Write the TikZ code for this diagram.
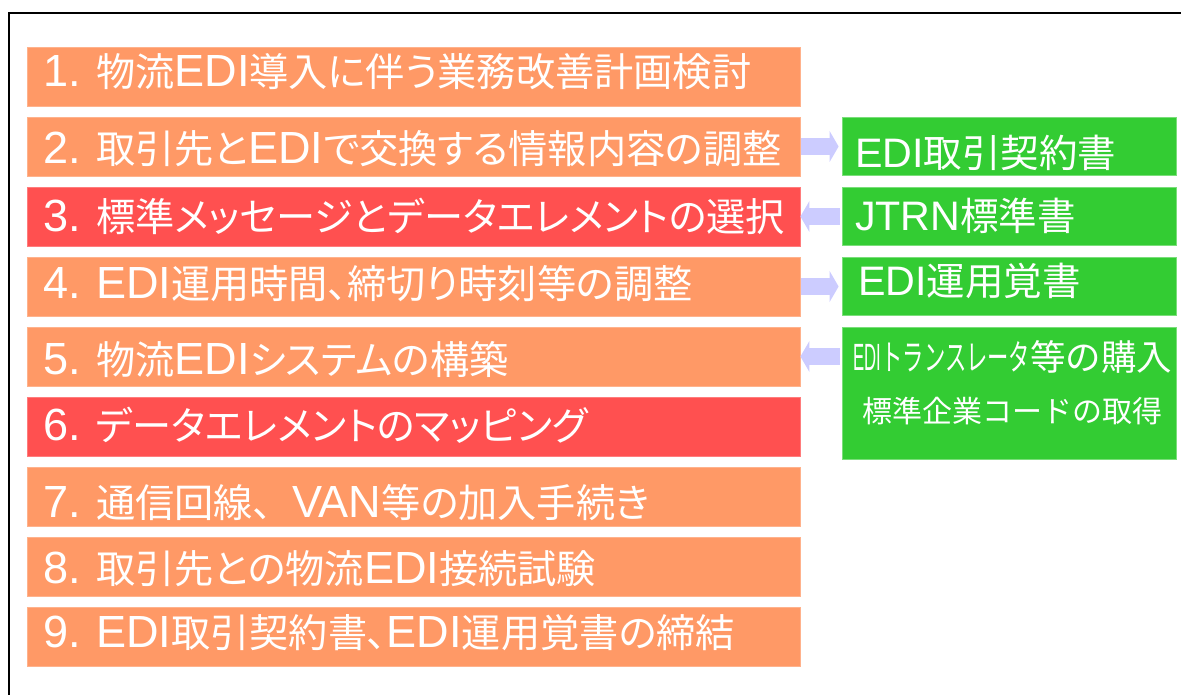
\documentclass[tikz,border=0pt]{standalone}
\usepackage{fontspec}
\usepackage{graphicx}
\setmainfont{Noto Sans CJK JP}
\newfontfamily\pf[RawFeature=+palt]{Noto Sans CJK JP}
\newfontfamily\latinf[Scale=1.15]{Liberation Sans}
\newfontfamily\latinG[Scale=1.07]{Liberation Sans}
\newcommand\latn[1]{{\latinf #1}}
\newcommand\latg[1]{{\latinG #1}}
\newcommand\tou{{\normalfont 、}}
\usetikzlibrary{arrows.meta,calc}
\definecolor{orangec}{HTML}{FF9966}
\definecolor{redc}{HTML}{FF5050}
\definecolor{greenc}{HTML}{33CC33}
\definecolor{arrowc}{HTML}{CCCCFF}
\begin{document}
\begin{tikzpicture}[x=1pt,y=-1pt,
  lbox/.style={minimum height=59pt, text width=741pt, inner xsep=16pt, inner ysep=0pt,
    align=left, text=white, font=\pf\fontsize{39.2}{46}\selectfont, line width=0.8pt},
  obox/.style={lbox, fill=orangec, draw=orangec!75!white},
  rbox/.style={lbox, fill=redc, draw=redc!75!white},
  gbox/.style={minimum height=58pt, text width=308pt, inner xsep=13pt, inner ysep=0pt,
    align=left, text=white, font=\fontsize{38.5}{44}\selectfont,
    fill=greenc, draw=greenc!65!white, line width=0.8pt},
  gtext/.style={text=white, inner sep=0pt, anchor=base},
  blockarrow/.style={draw=arrowc, line width=17pt,
    -{Triangle[length=9pt,width=31pt,line width=0pt]}}
]
\useasboundingbox (0,0) rectangle (1181,695);
\clip (0,0) rectangle (1181,695);
\draw[line width=2pt] (9,13) rectangle (1200,720);

\node[obox, text height=32.9pt, text depth=12.1pt] (b1) at (413.5,76.5) {\latn{1.}\kern15.5pt 物流\latn{EDI}導入に伴う業務改善計画検討};
\node[obox, text height=39.9pt, text depth=5.1pt] (b2) at (413.5,146.5) {\latn{2.}\kern15.5pt 取引先と\latn{EDI}で交換する情報内容の調整};
\node[rbox, text height=37.4pt, text depth=7.6pt] (b3) at (413.5,216.5) {\latn{3.}\kern15.5pt 標準メッセージとデータエレメントの選択};
\node[obox, text height=34.4pt, text depth=10.6pt] (b4) at (413.5,286.5) {\latn{4.}\kern15.5pt \latn{EDI}運用時間、締切り時刻等の調整};
\node[obox, text height=40.4pt, text depth=4.6pt] (b5) at (413.5,356.5) {\latn{5.}\kern15.5pt 物流\latn{EDI}システムの構築};
\node[rbox, text height=36.4pt, text depth=8.6pt] (b6) at (413.5,426.5) {\latn{6.}\kern15.5pt データエレメントのマッピング};
\node[obox, text height=43.4pt, text depth=1.6pt] (b7) at (413.5,496.5) {\latn{7.}\kern15.5pt 通信回線\tou\latn{VAN}等の加入手続き};
\node[obox, text height=39.4pt, text depth=5.6pt] (b8) at (413.5,566.5) {\latn{8.}\kern15.5pt 取引先との物流\latn{EDI}接続試験};
\node[obox, text height=33.4pt, text depth=11.6pt] (b9) at (413.5,636.5) {\latn{9.}\kern15.5pt \latn{EDI}取引契約書、\latn{EDI}運用覚書の締結};

\node[gbox, text height=44.6pt, text depth=3.4pt] (g1) at (1009,146.5) {\latg{EDI}取引契約書};
\node[gbox, text height=37.6pt, text depth=10.4pt] (g2) at (1009,216.5) {\latg{JTRN}標準書};
\node[gbox, text height=32.6pt, text depth=15.4pt] (g3) at (1009,286.5) {\kern3pt\latg{EDI}運用覚書};
\node[gbox, minimum height=132pt] (g4) at (1009,393) {};
\node[gtext, font=\fontsize{35.5}{40}\selectfont] (g4a) at ($(g4.north)+(4,43.5)$)
  {\scalebox{0.44}[1]{\latg{EDI}}\scalebox{0.6}[1]{トランスレータ}等の購入};
\node[gtext, font=\fontsize{30}{36}\selectfont] (g4b) at ($(g4.north)+(3,95.4)$)
  {標準企業コードの取得};

\draw[blockarrow, shorten >=3pt, shorten <=1pt] (b2.east) -- (b2.east -| g1.west);
\draw[blockarrow, shorten <=2pt] (g2.west |- b3.east) -- (b3.east);
\draw[blockarrow, shorten >=3pt, shorten <=1pt] (b4.east) -- (b4.east -| g3.west);
\draw[blockarrow, shorten <=2pt] (g4.west |- b5.east) -- (b5.east);
\end{tikzpicture}
\end{document}
